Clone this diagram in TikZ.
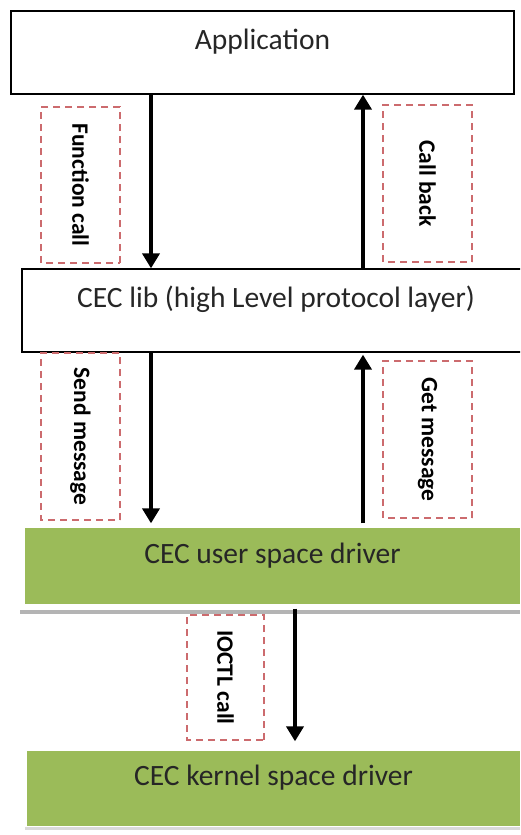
\documentclass[tikz,border=0pt]{standalone}
\usepackage{fontspec}
\setmainfont{Carlito}
\usepackage{tikz}
\usetikzlibrary{positioning, arrows.meta, calc}
\usepackage{xcolor}
\definecolor{layergreen}{HTML}{9BBB59}
\definecolor{labelred}{HTML}{CC6B6E}
\definecolor{shadowgray}{HTML}{B4B4B4}

\begin{document}
\begin{tikzpicture}[
    x=1pt, y=-1pt,
    layer/.style={rectangle, draw=black, line width=1.3pt, fill=white, inner sep=0pt,
        font=\fontsize{29.5}{34}\selectfont, text=black!85, text height=21pt, text depth=27pt},
    greenlayer/.style={layer, draw=none, fill=layergreen},
    msgbox/.style={rectangle, draw=labelred, line width=1.2pt, dash pattern=on 7pt off 5pt,
        rotate=-90, inner sep=0pt, font=\bfseries\fontsize{23.5}{28}\selectfont},
    flow/.style={line width=4pt, -{Triangle[width=17pt,length=15pt]}}
]
    \clip (0,0) rectangle (520,835);
    \fill[white] (0,0) rectangle (520,835);

    % layers, top to bottom
    \node[layer, minimum width=503pt, minimum height=83pt] (app) at (262.5,52.5) {Application};
    \node[layer, minimum width=508pt, minimum height=83pt] (lib) at (276,310.5) {CEC lib (high Level protocol layer)};
    \fill[shadowgray] (20,610) rectangle (520,614);
    \node[greenlayer, minimum width=495pt, minimum height=76pt] (user) at (272.5,566) {CEC user space driver};
    \fill[shadowgray!50] (25,827) rectangle (520,830);
    \node[greenlayer, minimum width=493pt, minimum height=75pt] (kernel) at (273.5,788.5) {CEC kernel space driver};

    % dashed labels
    \node[msgbox, minimum width=156pt, minimum height=79pt] (fcall) at (80.5,185) {Function call};
    \node[msgbox, minimum width=157pt, minimum height=89pt] (cback) at (427.5,183.5) {Call back};
    \node[msgbox, minimum width=167pt, minimum height=79pt] (smsg) at (80.5,436.5) {Send message};
    \node[msgbox, minimum width=157pt, minimum height=89pt] (gmsg) at (427.5,439.5) {Get message};
    \node[msgbox, minimum width=125pt, minimum height=77pt] (ioctl) at (225.5,677.5) {IOCTL call};

    % calls going down, answers coming up
    \coordinate (downx) at (151,0);
    \coordinate (upx) at (363,0);
    \coordinate (ioctlx) at (295,0);
    \draw[flow] (app.south -| downx) -- (lib.north -| downx);
    \draw[flow] (lib.north -| upx) -- (app.south -| upx);
    \draw[flow, shorten >=4pt] (lib.south -| downx) -- (user.north -| downx);
    \draw[flow, shorten <=4pt, shorten >=2pt] (user.north -| upx) -- (lib.south -| upx);
    \draw[flow, shorten <=4pt, shorten >=9pt] (user.south -| ioctlx) -- (kernel.north -| ioctlx);
\end{tikzpicture}
\end{document}
